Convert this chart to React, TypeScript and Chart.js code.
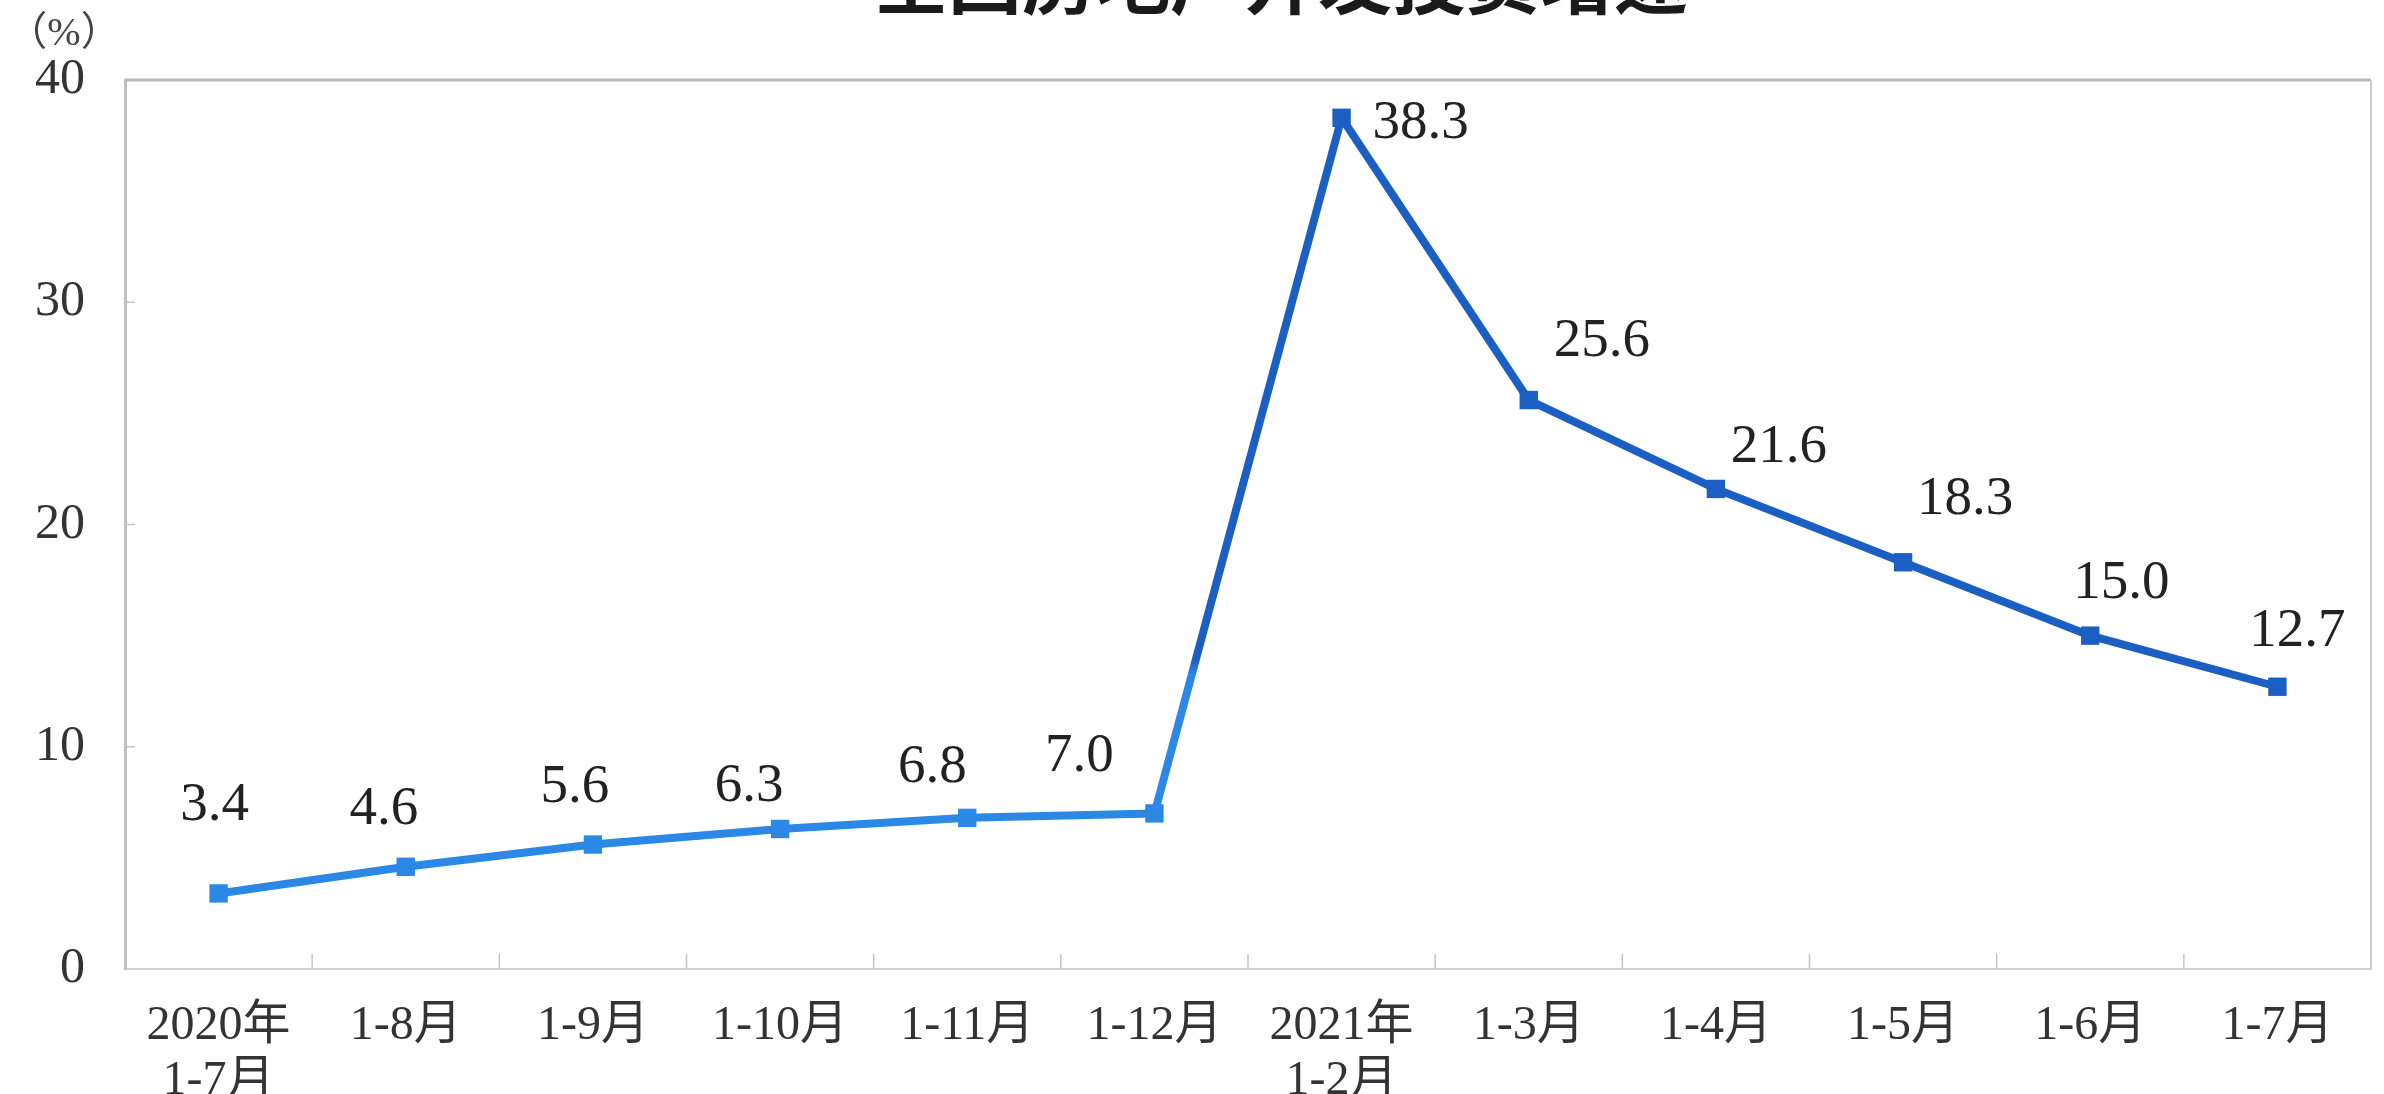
import React, { useEffect, useRef } from 'react';
import { Chart, registerables } from 'chart.js';

Chart.register(...registerables);

// ---- data ----
const categories: (string | string[])[] = [
  ['2020年', '1-7月'],
  '1-8月',
  '1-9月',
  '1-10月',
  '1-11月',
  '1-12月',
  ['2021年', '1-2月'],
  '1-3月',
  '1-4月',
  '1-5月',
  '1-6月',
  '1-7月',
];
const growth = [3.4, 4.6, 5.6, 6.3, 6.8, 7.0, 38.3, 25.6, 21.6, 18.3, 15.0, 12.7];
const valueLabels = ['3.4', '4.6', '5.6', '6.3', '6.8', '7.0', '38.3', '25.6', '21.6', '18.3', '15.0', '12.7'];
const yTicks = [0, 10, 20, 30, 40];
const titleText = '全国房地产开发投资增速';
const unitText = '（%）';

// ---- label placement (style) ----
const labelDX = [-4, -22, -18, -31, -35, -75, 79, 73, 63, 62, 31, 20];
const labelDY = [-88, -57, -57, -42, -50, -57, 6, -58, -41, -63, -52, -55];

const LIGHT = '#2b88e4';
const DARK = '#1c5fc2';
const SERIF = "'Liberation Serif', 'Noto Sans CJK SC', serif";

export default function App() {
  const canvasRef = useRef<HTMLCanvasElement | null>(null);

  useEffect(() => {
    document.body.style.margin = '0';
    const canvas = canvasRef.current!;
    const c2d = canvas.getContext('2d')!;

    const framePlugin = {
      id: 'frame',
      beforeDatasetsDraw(chart: any) {
        const { ctx, chartArea } = chart;
        const xs = chart.scales.x;
        const ys = chart.scales.y;
        ctx.save();
        ctx.strokeStyle = '#b8b8b8';
        ctx.lineWidth = 3;
        ctx.beginPath();
        ctx.moveTo(chartArea.left, chartArea.top);
        ctx.lineTo(chartArea.right, chartArea.top);
        ctx.stroke();
        ctx.strokeStyle = '#cdcdcd';
        ctx.lineWidth = 2;
        ctx.beginPath();
        ctx.moveTo(chartArea.right, chartArea.top);
        ctx.lineTo(chartArea.right, chartArea.bottom);
        ctx.stroke();
        ctx.strokeStyle = '#c4c4c4';
        ctx.lineWidth = 1.5;
        for (let i = 1; i < categories.length; i++) {
          const x = (xs.getPixelForValue(i - 1) + xs.getPixelForValue(i)) / 2;
          ctx.beginPath();
          ctx.moveTo(x, chartArea.bottom);
          ctx.lineTo(x, chartArea.bottom - 15);
          ctx.stroke();
        }
        for (const v of yTicks) {
          if (v === 0 || v === 40) continue;
          const y = ys.getPixelForValue(v);
          ctx.beginPath();
          ctx.moveTo(chartArea.left, y);
          ctx.lineTo(chartArea.left + 10, y);
          ctx.stroke();
        }
        ctx.restore();
      },
    };

    const labelPlugin = {
      id: 'valueLabels',
      afterDatasetsDraw(chart: any) {
        const { ctx } = chart;
        const meta = chart.getDatasetMeta(0);
        ctx.save();
        ctx.font = `55px ${SERIF}`;
        ctx.fillStyle = '#222222';
        ctx.textAlign = 'center';
        ctx.textBaseline = 'middle';
        meta.data.forEach((pt: any, i: number) => {
          ctx.fillText(valueLabels[i], pt.x + labelDX[i], pt.y + labelDY[i]);
        });
        ctx.restore();
      },
    };

    const textPlugin = {
      id: 'headerText',
      afterDraw(chart: any) {
        const { ctx } = chart;
        ctx.save();
        ctx.fillStyle = '#1a1a1a';
        ctx.textAlign = 'center';
        ctx.textBaseline = 'alphabetic';
        ctx.font = "bold 74px 'Noto Sans CJK SC', sans-serif";
        ctx.fillText(titleText, 1281, 8);
        ctx.fillStyle = '#444444';
        ctx.font = `40px ${SERIF}`;
        ctx.textBaseline = 'middle';
        ctx.fillText(unitText, 64, 34);
        ctx.restore();
      },
    };

    const chart = new Chart(canvas, {
      type: 'line',
      data: {
        labels: categories,
        datasets: [
          {
            data: growth,
            borderWidth: 8,
            borderColor: DARK,
            pointStyle: 'rect',
            pointRadius: 13,
            pointHoverRadius: 13,
            pointBorderWidth: 0,
            pointBackgroundColor: (ctx: any) => (ctx.dataIndex <= 5 ? LIGHT : DARK),
            tension: 0,
            segment: {
              borderColor: (ctx: any) => {
                if (ctx.p0DataIndex < 5) return LIGHT;
                if (ctx.p0DataIndex === 5) {
                  const g = c2d.createLinearGradient(0, ctx.p0.y, 0, ctx.p1.y);
                  g.addColorStop(0, LIGHT);
                  g.addColorStop(0.2, LIGHT);
                  g.addColorStop(0.22, DARK);
                  g.addColorStop(1, DARK);
                  return g;
                }
                return DARK;
              },
            },
          } as any,
        ],
      },
      options: {
        responsive: false,
        animation: false,
        devicePixelRatio: 1,
        layout: { padding: { top: 80, right: 7, left: 0, bottom: 0 } },
        plugins: {
          legend: { display: false },
          title: { display: false },
          tooltip: { enabled: false },
        },
        scales: {
          x: {
            type: 'category',
            offset: true,
            grid: { display: false },
            border: { display: true, color: '#cfcfcf', width: 2 },
            ticks: {
              font: { family: SERIF, size: 48, lineHeight: 1.15 },
              color: '#333333',
              padding: 22,
              maxRotation: 0,
              autoSkip: false,
            },
            afterFit(scale: any) {
              scale.height = 125;
            },
          },
          y: {
            min: 0,
            max: 40,
            grid: { display: false, drawTicks: false },
            border: { display: true, color: '#c0c0c0', width: 3 },
            ticks: {
              font: { family: SERIF, size: 50 },
              color: '#333333',
              padding: 40,
            },
            afterBuildTicks(scale: any) {
              scale.ticks = yTicks.map((v) => ({ value: v }));
            },
            afterFit(scale: any) {
              scale.width = 125;
            },
          },
        },
      },
      plugins: [framePlugin, labelPlugin, textPlugin],
    } as any);

    return () => chart.destroy();
  }, []);

  return (
    <canvas
      ref={canvasRef}
      width={2384}
      height={1094}
      style={{ display: 'block', width: 2384, height: 1094 }}
    />
  );
}
